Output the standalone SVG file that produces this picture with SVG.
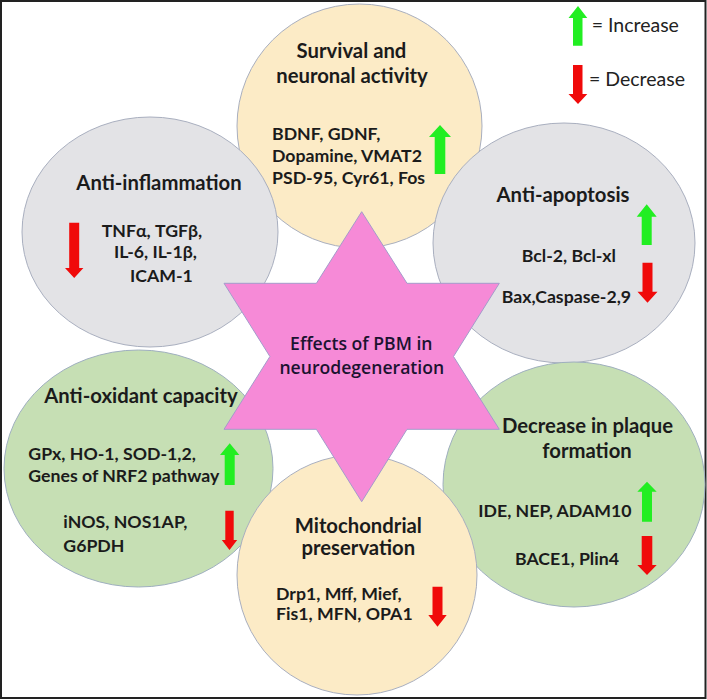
<svg xmlns="http://www.w3.org/2000/svg" width="707" height="700" viewBox="0 0 707 700">
<defs>
<style>
.cream{fill:#FCEBC6;stroke:#A9AFBF;stroke-width:1}
.gray{fill:#E3E3E6;stroke:#A9AFBF;stroke-width:1}
.green{fill:#C6DFB4;stroke:#9FAFBF;stroke-width:1}
.star{fill:#F68AD7;stroke:#A49CCB;stroke-width:1}
.t{font-family:Lato,"Open Sans",sans-serif;font-weight:bold;fill:#1b1b1b;font-size:20.3px;text-anchor:middle}
.i{font-family:Lato,"Open Sans",sans-serif;font-weight:bold;fill:#1b1b1b;font-size:17.7px}
.s{font-family:"Open Sans",Lato,sans-serif;font-weight:600;fill:#1b1330;font-size:17.6px;text-anchor:middle}
.lg{font-family:Lato,"Open Sans",sans-serif;fill:#222;font-size:19.5px}
.up{fill:#22EE22}
.dn{fill:#F00A0A}
</style>
</defs>
<rect x="0" y="0" width="707" height="700" fill="#ffffff"/>
<rect x="1" y="1" width="704.5" height="697" fill="none" stroke="#222" stroke-width="2"/>

<g id="connectors"/>

<g id="node-survival">
<ellipse class="cream" cx="359.5" cy="126" rx="122.5" ry="122"/>
<text class="t" x="351.5" y="58">Survival and</text>
<text class="t" x="352" y="83">neuronal activity</text>
<text class="i" x="272" y="140">BDNF, GDNF,</text>
<text class="i" x="272" y="161.7">Dopamine, VMAT2</text>
<text class="i" x="272" y="184">PSD-95, Cyr61, Fos</text>
<polygon class="up" points="440,125 451,137 445.3,137 445.3,174 434.7,174 434.7,137 429,137"/>
</g>

<g id="node-anti-inflammation">
<ellipse class="gray" cx="150" cy="232" rx="128" ry="115"/>
<text class="t" x="159" y="190">Anti-inflammation</text>
<text class="i" x="101.7" y="236.7">TNFα, TGFβ,</text>
<text class="i" x="114" y="258">IL-6, IL-1β,</text>
<text class="i" x="130" y="281.7">ICAM-1</text>
<polygon class="dn" points="74.2,278 83.4,268 79.2,268 79.2,222.7 69.2,222.7 69.2,268 65,268"/>
</g>

<g id="node-anti-apoptosis">
<ellipse class="gray" cx="564" cy="243" rx="131" ry="120"/>
<text class="t" x="563" y="201.7">Anti-apoptosis</text>
<text class="i" x="521.7" y="261.7">Bcl-2, Bcl-xl</text>
<text class="i" x="501.7" y="302.7">Bax,Caspase-2,9</text>
<polygon class="up" points="646.7,204.3 656.7,216.7 651.7,216.7 651.7,245 641.7,245 641.7,216.7 636.7,216.7"/>
<polygon class="dn" points="647.5,302.7 657.5,291.7 652.5,291.7 652.5,262.7 642.5,262.7 642.5,291.7 637.5,291.7"/>
</g>

<g id="node-anti-oxidant">
<ellipse class="green" cx="138.5" cy="468.5" rx="134.5" ry="118.5"/>
<text class="t" x="141" y="403">Anti-oxidant capacity</text>
<text class="i" x="28.3" y="460">GPx, HO-1, SOD-1,2,</text>
<text class="i" x="28.3" y="481.7">Genes of NRF2 pathway</text>
<text class="i" x="63.3" y="528.3">iNOS, NOS1AP,</text>
<text class="i" x="63.3" y="551.7">G6PDH</text>
<polygon class="up" points="229.7,443.3 239.4,455 234.7,455 234.7,485 224.7,485 224.7,455 220,455"/>
<polygon class="dn" points="229.5,550 237.2,540 233.7,540 233.7,510.7 225.3,510.7 225.3,540 221.8,540"/>
</g>

<g id="node-plaque">
<ellipse class="green" cx="574" cy="484.5" rx="131" ry="122.5"/>
<text class="t" x="587.5" y="432.7">Decrease in plaque</text>
<text class="t" x="587" y="458">formation</text>
<text class="i" x="478.3" y="517.3">IDE, NEP, ADAM10</text>
<text class="i" x="515" y="565">BACE1, Plin4</text>
<polygon class="up" points="647,481.7 656.7,491.7 652,491.7 652,521.7 642,521.7 642,491.7 637.3,491.7"/>
<polygon class="dn" points="647,575 656.7,565 652.3,565 652.3,536 641.7,536 641.7,565 637.3,565"/>
</g>

<g id="node-mitochondrial">
<ellipse class="cream" cx="357" cy="575" rx="120" ry="120"/>
<text class="t" x="358.3" y="533">Mitochondrial</text>
<text class="t" x="358.3" y="555">preservation</text>
<text class="i" x="276" y="600">Drp1, Mff, Mief,</text>
<text class="i" x="276" y="620">Fis1, MFN, OPA1</text>
<polygon class="dn" points="437.5,626.7 446.7,615 442.5,615 442.5,586.7 432.5,586.7 432.5,615 428.3,615"/>
</g>

<g id="node-center">
<polygon class="star" points="361.7,211.7 407,283.3 499.3,283.3 453.5,356.5 499.3,429.3 407,429.3 361.7,501.7 316.4,429.3 224,429.3 269.9,356.5 224,283.3 316.4,283.3"/>
<text class="s" x="361.3" y="350">Effects of PBM in</text>
<text class="s" x="361.8" y="374">neurodegeneration</text>
</g>

<g id="legend">
<polygon class="up" points="578,6 587.3,18 582.5,18 582.5,45.7 573,45.7 573,18 568.5,18"/>
<text class="lg" x="591.7" y="31.7">= Increase</text>
<polygon class="dn" points="578,104 587.3,94 582.5,94 582.5,65 573,65 573,94 568.5,94"/>
<text class="lg" x="589" y="86">= Decrease</text>
</g>
</svg>
